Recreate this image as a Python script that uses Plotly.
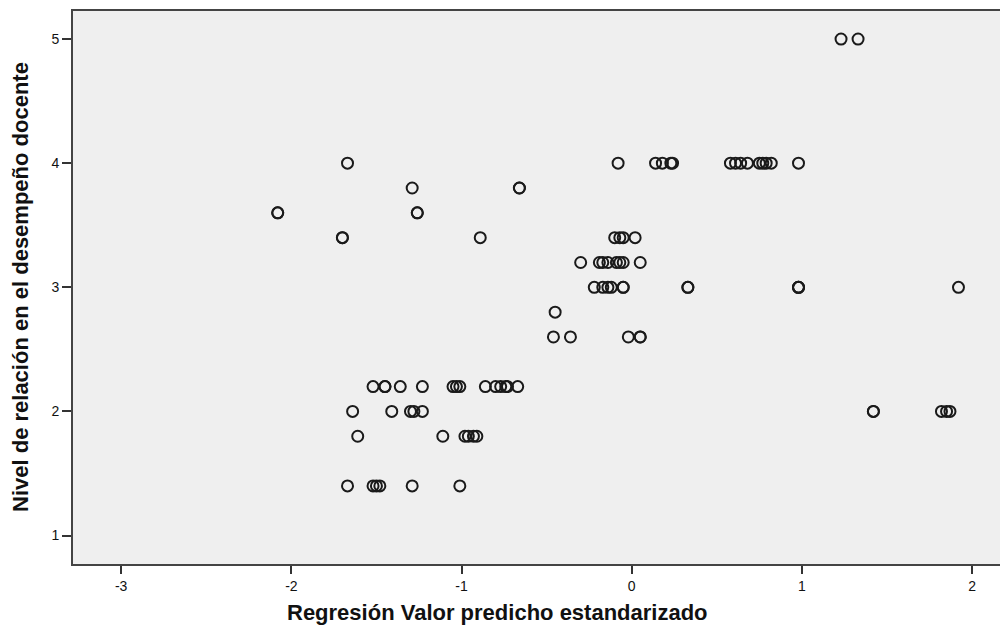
import plotly.graph_objects as go

# Standardized predicted value (x) and observed level (y)
x_vals = [
    1.23, 1.33,
    -1.67, -0.08, 0.14, 0.18, 0.23, 0.24, 0.58, 0.61, 0.64, 0.68, 0.75, 0.77, 0.79, 0.82, 0.98,
    -1.29, -0.66, -0.66,
    -2.08, -2.08, -1.26, -1.26,
    -1.70, -1.70, -0.89, -0.10, -0.07, -0.05, 0.02,
    -0.30, -0.19, -0.17, -0.14, -0.09, -0.07, -0.05, 0.05,
    -0.22, -0.17, -0.14, -0.12, -0.05, -0.05, 0.33, 0.33, 0.98, 0.98, 0.98, 1.92,
    -0.45,
    -0.46, -0.36, -0.02, 0.05, 0.05,
    -1.52, -1.45, -1.45, -1.36, -1.23, -1.05, -1.03, -1.01, -0.86, -0.80, -0.77, -0.74, -0.73, -0.67,
    -1.64, -1.41, -1.30, -1.28, -1.23, 1.42, 1.42, 1.82, 1.85, 1.87,
    -1.61, -1.11, -0.98, -0.96, -0.93, -0.91,
    -1.67, -1.52, -1.50, -1.48, -1.29, -1.01,
]
y_vals = (
    [5.0] * 2
    + [4.0] * 15
    + [3.8] * 3
    + [3.6] * 4
    + [3.4] * 7
    + [3.2] * 8
    + [3.0] * 12
    + [2.8] * 1
    + [2.6] * 5
    + [2.2] * 14
    + [2.0] * 10
    + [1.8] * 6
    + [1.4] * 6
)

x_ticks = [-3, -2, -1, 0, 1, 2]
y_ticks = [1, 2, 3, 4, 5]
x_title = "Regresión Valor predicho estandarizado"
y_title = "Nivel de relación en el desempeño docente"

FONT = "Liberation Sans, Arial, sans-serif"

fig = go.Figure(
    go.Scatter(
        x=x_vals,
        y=y_vals,
        mode="markers",
        marker=dict(
            symbol="circle-open",
            size=11,
            color="#1a1a1a",
            line=dict(width=2, color="#1a1a1a"),
        ),
        hoverinfo="x+y",
    )
)

# page body has an 8px default margin, so the figure is offset accordingly
fig.update_layout(
    width=1000,
    height=621,
    margin=dict(l=65, r=0, t=3, b=65),
    paper_bgcolor="white",
    plot_bgcolor="#efefef",
    showlegend=False,
    font=dict(family=FONT, color="#111"),
    annotations=[
        dict(
            text=x_title, xref="paper", yref="paper", x=0.4545, y=0,
            xanchor="center", yanchor="middle", yshift=-48, showarrow=False,
            font=dict(size=22, family=FONT, weight="bold", color="#111"),
        ),
        dict(
            text=y_title, xref="paper", yref="paper", x=0, y=0.5009,
            xanchor="center", yanchor="middle", xshift=-53, showarrow=False,
            textangle=-90,
            font=dict(size=22, family=FONT, weight="bold", color="#111"),
        ),
    ],
)

fig.update_xaxes(
    range=[-3.283, 2.211],
    tickvals=x_ticks,
    ticktext=[str(v) for v in x_ticks],
    showgrid=False,
    zeroline=False,
    showline=True,
    linecolor="#444",
    linewidth=2,
    mirror=True,
    ticks="outside",
    ticklen=8,
    tickwidth=1.5,
    tickcolor="#333",
    tickfont=dict(size=14, color="#111"),
    automargin=False,
)

fig.update_yaxes(
    range=[0.771, 5.226],
    tickvals=y_ticks,
    ticktext=[str(v) for v in y_ticks],
    showgrid=False,
    zeroline=False,
    showline=True,
    linecolor="#444",
    linewidth=2,
    mirror=False,
    ticks="outside",
    ticklen=9,
    tickwidth=1.5,
    tickcolor="#333",
    tickfont=dict(size=14, color="#111"),
    automargin=False,
)

fig.write_html("out.html")
